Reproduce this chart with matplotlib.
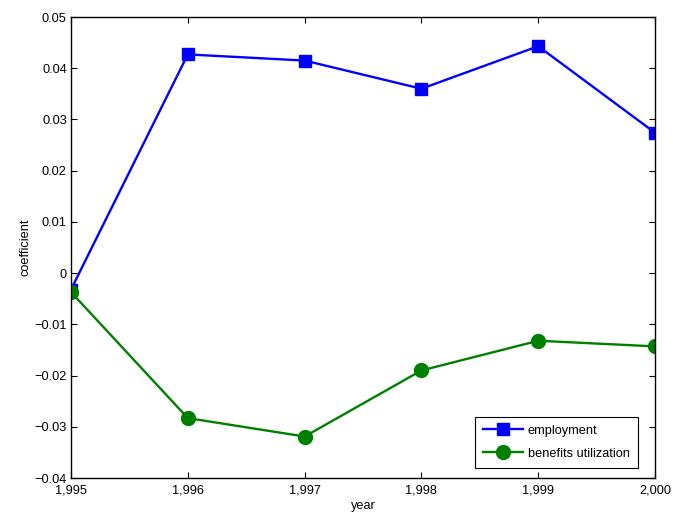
import matplotlib
matplotlib.use("Agg")
import matplotlib.pyplot as plt
from matplotlib.ticker import FuncFormatter

plt.rcParams['font.family'] = ['Liberation Sans', 'DejaVu Sans']

years = [1995, 1996, 1997, 1998, 1999, 2000]
employment = [-0.0032, 0.0427, 0.0415, 0.0360, 0.0443, 0.0274]
benefits = [-0.0037, -0.0283, -0.0319, -0.0190, -0.0132, -0.0143]

fig = plt.figure(figsize=(6.73, 5.16), dpi=100)
ax = fig.add_axes([0.1055, 0.0736, 0.8678, 0.8934])

ax.plot(years, employment, color='#0000ff', lw=1.7, marker='s', ms=8.5, label='employment')
ax.plot(years, benefits, color='#008000', lw=1.7, marker='o', ms=10, label='benefits utilization')

ax.set_xlim(1995, 2000)
ax.set_ylim(-0.04, 0.05)
ax.set_xticks(years)
ax.set_yticks([-0.04, -0.03, -0.02, -0.01, 0, 0.01, 0.02, 0.03, 0.04, 0.05])
ax.xaxis.set_major_formatter(FuncFormatter(lambda v, p: f"{int(round(v)):,}"))
ax.yaxis.set_major_formatter(FuncFormatter(lambda v, p: "0" if abs(v) < 1e-12 else f"{v:.2f}".replace('-', '\u2212')))
ax.tick_params(direction='in', top=True, right=True, labelsize=9.2, length=4, width=0.8)
ax.tick_params(axis='x', pad=5)
ax.tick_params(axis='y', pad=3)
for s in ax.spines.values():
    s.set_linewidth(1.0)

ax.set_xlabel('year', fontsize=9.2, labelpad=2)
ax.set_ylabel('coefficient', fontsize=9.2, labelpad=2)

leg = ax.legend(loc='lower right', bbox_to_anchor=(638/673, 1 - 468/516),
                bbox_transform=fig.transFigure, borderaxespad=0,
                fontsize=9.2, fancybox=False, framealpha=1,
                edgecolor='black', handlelength=3.1, labelspacing=0.85,
                borderpad=0.65, handletextpad=0.4)
leg.get_frame().set_linewidth(0.8)

fig.savefig('out.png', dpi=100)
